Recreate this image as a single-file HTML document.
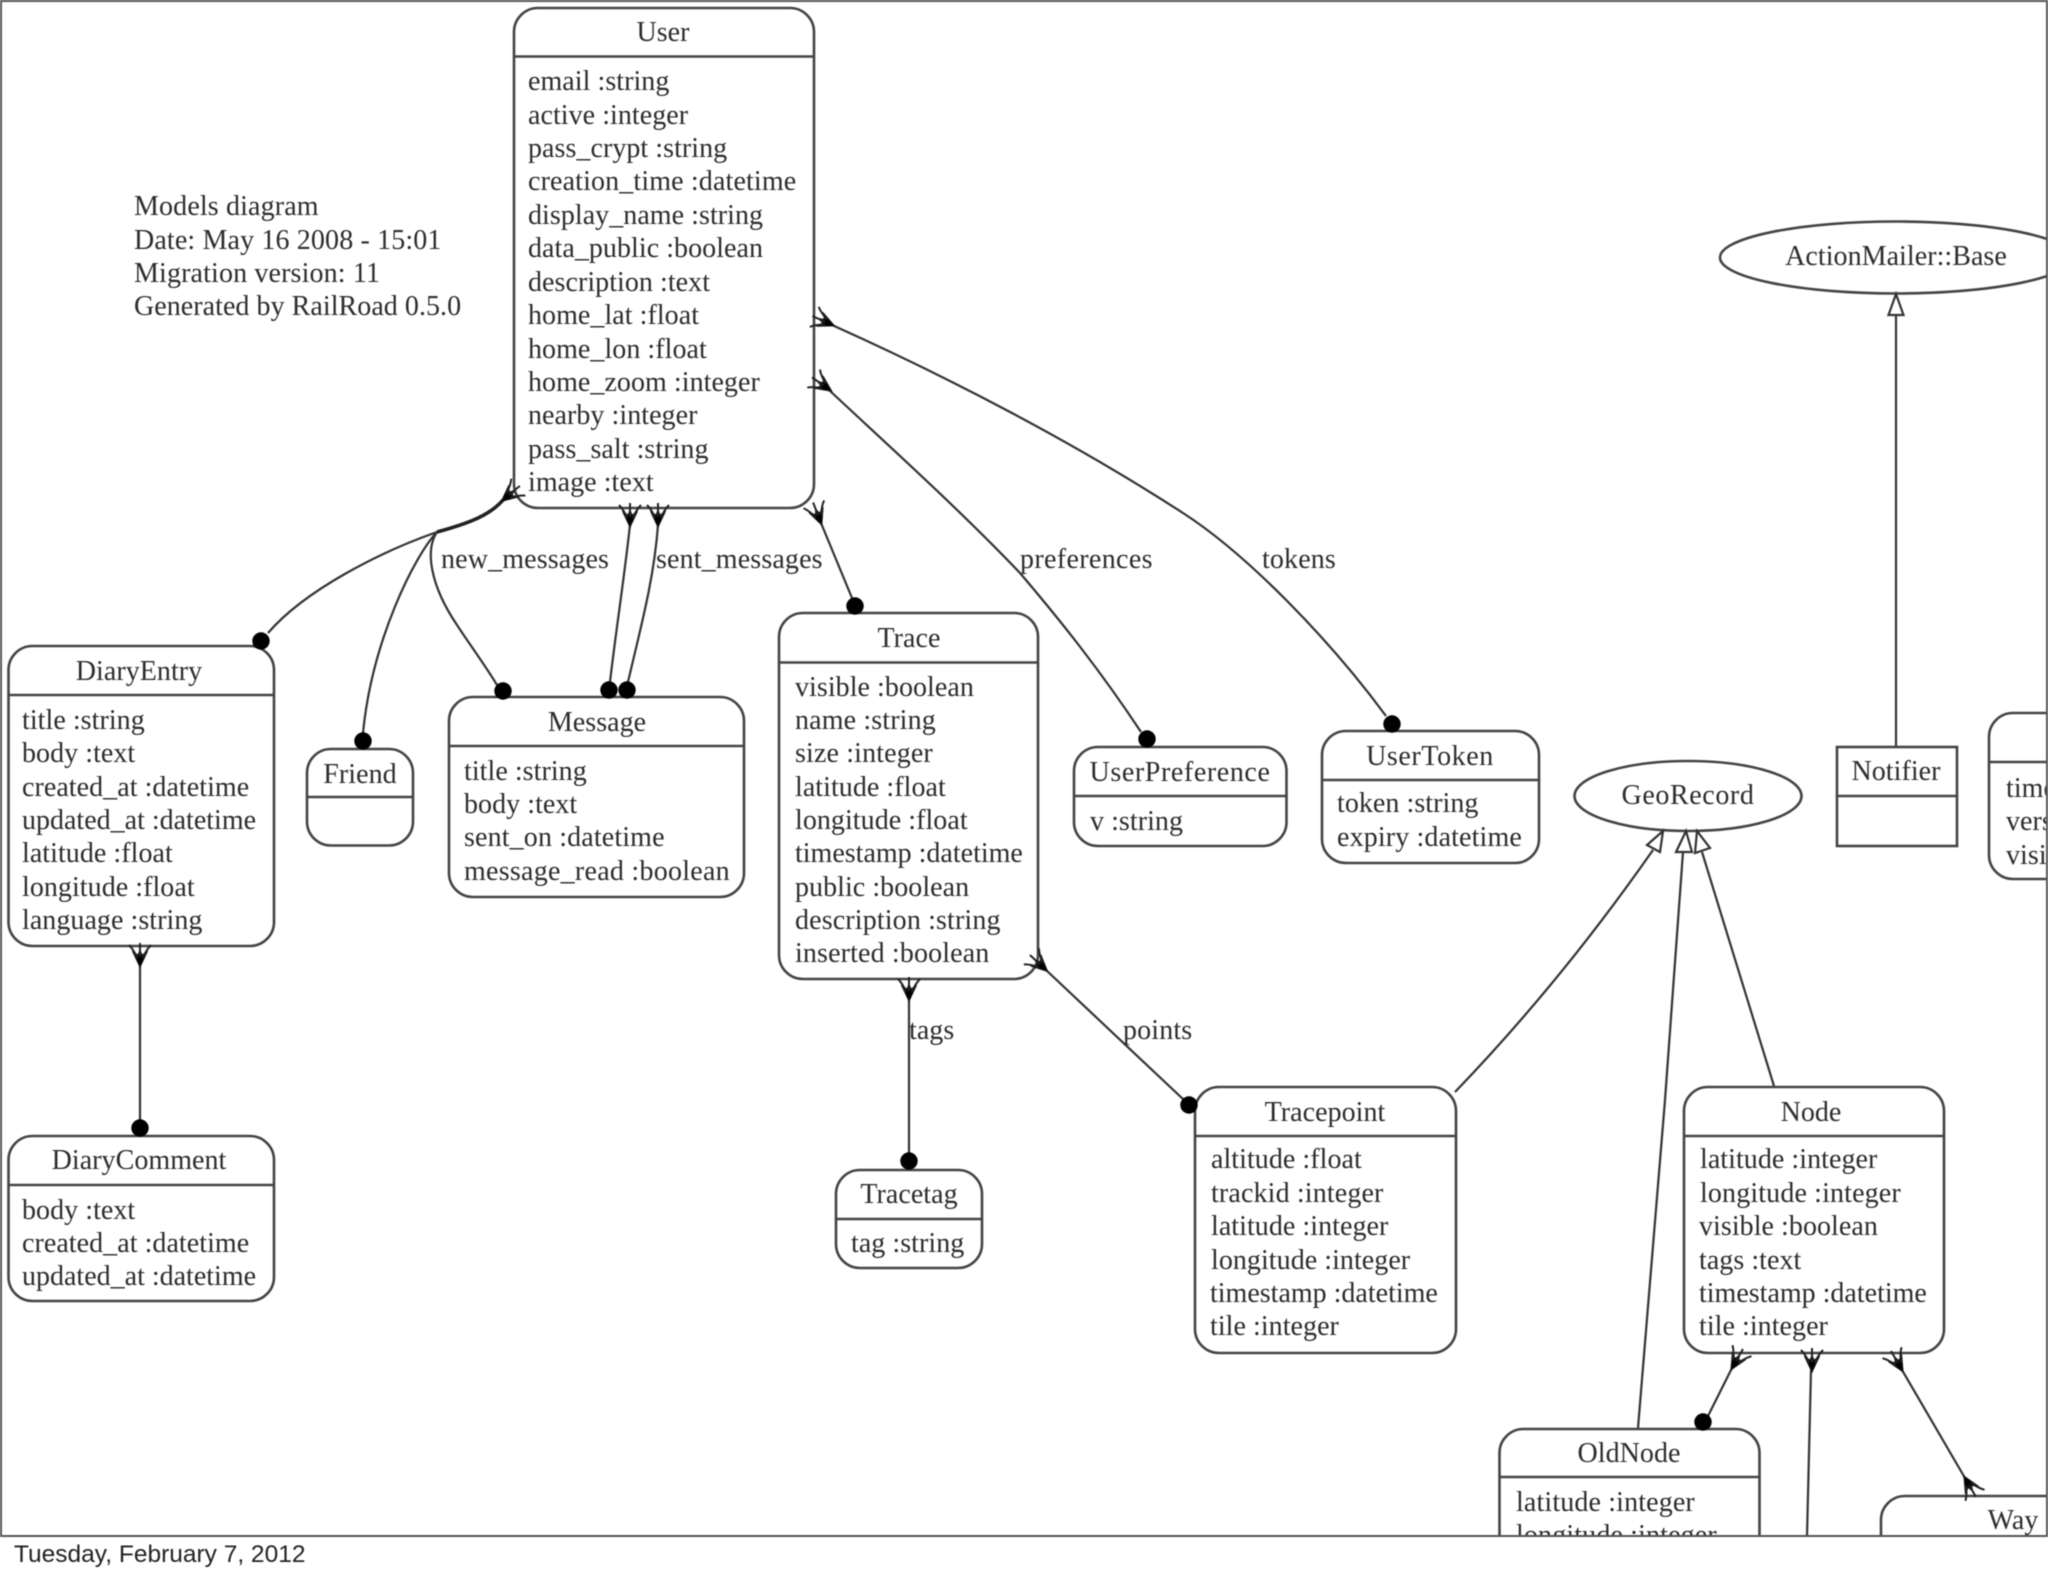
<!DOCTYPE html>
<html><head><meta charset="utf-8"><title>Models diagram</title>
<style>
html,body{margin:0;padding:0;background:#fff;width:2048px;height:1576px;overflow:hidden}
svg{display:block;filter:blur(.6px)}
text{font-family:"Liberation Serif",serif;font-size:28px;fill:#2c2c2c;letter-spacing:.05px}
.c{text-anchor:middle}
.w{letter-spacing:.6px}
.x{letter-spacing:.14px}
.n{fill:#fff;stroke:#444;stroke-width:2.6}
.l{stroke:#444;stroke-width:2.6;fill:none}
.e{stroke:#333;stroke-width:2.2;fill:none}
.h{fill:#fff;stroke:#333;stroke-width:2.2}
.d{fill:#000}
</style></head><body>
<svg width="2048" height="1576" viewBox="0 0 2048 1576" xmlns="http://www.w3.org/2000/svg">
<defs>
<clipPath id="cp"><rect x="0" y="0" width="2047" height="1535"/></clipPath>
<g id="crow"><path d="M0 2 L-7.5 -14 L-2 -9.5 L0 -15 L2 -9.5 L7.5 -14 Z" fill="#000" stroke="#111" stroke-width="1.2"/><path d="M-3 -7 Q-6 -15 -11 -20 M3 -7 Q6 -15 11 -20 M0 -8 V-22" fill="none" stroke="#222" stroke-width="2"/></g>
</defs>
<rect width="2048" height="1576" fill="#fff"/>
<g clip-path="url(#cp)">
<!-- edges -->
<path class="e" d="M503 500 C490 515 470 523 437 532" style="stroke-width:3.6;stroke:#222"/>
<path class="e" d="M437 532 C380 552 305 590 268 633"/>
<path class="e" d="M437 532 C415 555 372 640 363 733"/>
<path class="e" d="M437 532 C425 550 430 585 457 625 C470 645 485 665 497 685"/>
<path class="e" d="M630 525 C624 580 616 630 610 682"/>
<path class="e" d="M658 525 C654 580 640 630 628 682"/>
<path class="e" d="M821 523 L852 598"/>
<path class="e" d="M829 390 C890 447 960 510 1020 573 C1060 620 1100 670 1141 732"/>
<path class="e" d="M832 325 C950 378 1075 443 1183 513 C1248 555 1330 640 1386 716"/>
<path class="e" d="M140 964 L140 1122"/>
<path class="e" d="M909 998 L909 1155"/>
<path class="e" d="M1046 970 L1184 1100"/>
<path class="e" d="M1455 1092 Q1560 983 1653 850"/>
<path class="e" d="M1638 1428 L1665 1100 L1683 852"/>
<path class="e" d="M1774 1086 L1702 852"/>
<path class="e" d="M1896 746 L1896 314"/>
<path class="e" d="M1732 1368 L1708 1416"/>
<path class="e" d="M1811 1370 L1807 1536"/>
<path class="e" d="M1902 1370 L1965 1478"/>
<!-- User -->
<rect class="n" x="514" y="8" width="300" height="500" rx="24"/><path class="l" d="M514 56.5H814"/>
<text class="c" x="663" y="41">User</text>
<text x="528" y="90">email :string</text><text x="528" y="124">active :integer</text><text x="528" y="157">pass_crypt :string</text><text class="x" x="528" y="190">creation_time :datetime</text><text x="528" y="224">display_name :string</text><text x="528" y="257">data_public :boolean</text><text x="528" y="291">description :text</text><text x="528" y="324">home_lat :float</text><text x="528" y="358">home_lon :float</text><text x="528" y="391">home_zoom :integer</text><text x="528" y="424">nearby :integer</text><text x="528" y="458">pass_salt :string</text><text x="528" y="491">image :text</text>
<!-- Models -->
<text class="x" x="134" y="215">Models diagram</text><text class="x" x="134" y="249">Date: May 16 2008 - 15:01</text><text class="x" x="134" y="282">Migration version: 11</text><text x="134" y="315">Generated by RailRoad 0.5.0</text>
<!-- DiaryEntry -->
<rect class="n" x="8.5" y="646" width="265.5" height="300" rx="24"/><path class="l" d="M8.5 695H274"/>
<text class="c" x="139" y="680">DiaryEntry</text>
<text x="22" y="729">title :string</text><text x="22" y="762">body :text</text><text x="22" y="796">created_at :datetime</text><text style="letter-spacing:0" x="22" y="829">updated_at :datetime</text><text x="22" y="862">latitude :float</text><text x="22" y="896">longitude :float</text><text x="22" y="929">language :string</text>
<!-- Friend -->
<rect class="n" x="307" y="749" width="106" height="96.5" rx="24"/><path class="l" d="M307 797H413"/>
<text class="c" x="360" y="783">Friend</text>
<!-- Message -->
<rect class="n" x="449" y="697" width="295" height="200" rx="24"/><path class="l" d="M449 746H744"/>
<text class="c" x="597" y="731">Message</text>
<text x="464" y="780">title :string</text><text x="464" y="813">body :text</text><text class="x" x="464" y="846">sent_on :datetime</text><text x="464" y="880" style="letter-spacing:.26px">message_read :boolean</text>
<!-- Trace -->
<rect class="n" x="779" y="613" width="259" height="366" rx="24"/><path class="l" d="M779 662.5H1038"/>
<text class="c" x="909" y="647">Trace</text>
<text x="795" y="696">visible :boolean</text><text class="x" x="795" y="729">name :string</text><text class="x" x="795" y="762">size :integer</text><text x="795" y="796">latitude :float</text><text x="795" y="829">longitude :float</text><text style="letter-spacing:0" x="795" y="862">timestamp :datetime</text><text x="795" y="896">public :boolean</text><text class="x" x="795" y="929">description :string</text><text class="x" x="795" y="962">inserted :boolean</text>
<!-- DiaryComment -->
<rect class="n" x="8.5" y="1136" width="265.5" height="165" rx="24"/><path class="l" d="M8.5 1185H274"/>
<text class="c" x="139" y="1169">DiaryComment</text>
<text x="22" y="1219">body :text</text><text x="22" y="1252">created_at :datetime</text><text style="letter-spacing:0" x="22" y="1285">updated_at :datetime</text>
<!-- Tracetag -->
<rect class="n" x="836" y="1170" width="146" height="98" rx="24"/><path class="l" d="M836 1219H982"/>
<text class="c" x="909" y="1203">Tracetag</text><text x="851" y="1252">tag :string</text>
<!-- UserPreference -->
<rect class="n" x="1074" y="747" width="212.5" height="99" rx="24"/><path class="l" d="M1074 796H1286.5"/>
<text class="c w" x="1180" y="781">UserPreference</text><text x="1090" y="830">v :string</text>
<!-- UserToken -->
<rect class="n" x="1322" y="731" width="217" height="132" rx="24"/><path class="l" d="M1322 780H1539"/>
<text class="c w" x="1430" y="765">UserToken</text><text x="1337" y="812">token :string</text><text class="x" x="1337" y="846">expiry :datetime</text>
<!-- GeoRecord -->
<ellipse class="n" cx="1688" cy="796" rx="113.5" ry="35"/><text class="c w" x="1688" y="804">GeoRecord</text>
<!-- Notifier -->
<rect class="n" x="1837" y="747" width="120" height="99"/><path class="l" d="M1837 796H1957"/>
<text class="c" x="1896" y="780">Notifier</text>
<!-- ActionMailer -->
<ellipse class="n" cx="1896" cy="257.5" rx="176" ry="36"/><text class="c" x="1896" y="265">ActionMailer::Base</text>
<!-- right partial -->
<path class="n" d="M2060 713H2013A24 24 0 0 0 1989 737V855A24 24 0 0 0 2013 879H2060Z"/><path class="l" d="M1989 762H2060"/>
<text x="2006" y="797">timestamp :datetime</text><text x="2006" y="830">version :integer</text><text x="2006" y="864">visible :boolean</text>
<!-- Tracepoint -->
<rect class="n" x="1195" y="1087" width="261" height="266" rx="24"/><path class="l" d="M1195 1136H1456"/>
<text class="c" x="1325" y="1121">Tracepoint</text>
<text x="1211" y="1168">altitude :float</text><text class="x" x="1211" y="1202">trackid :integer</text><text x="1211" y="1235">latitude :integer</text><text x="1211" y="1269">longitude :integer</text><text style="letter-spacing:0" x="1210" y="1302">timestamp :datetime</text><text x="1210" y="1335">tile :integer</text>
<!-- Node -->
<rect class="n" x="1684" y="1087" width="260" height="266" rx="24"/><path class="l" d="M1684 1136H1944"/>
<text class="c" x="1811" y="1121">Node</text>
<text x="1700" y="1168">latitude :integer</text><text class="x" x="1700" y="1202">longitude :integer</text><text x="1699" y="1235">visible :boolean</text><text x="1699" y="1269">tags :text</text><text style="letter-spacing:0" x="1699" y="1302">timestamp :datetime</text><text x="1699" y="1335">tile :integer</text>
<!-- OldNode -->
<path class="n" d="M1499.5 1560V1453A24 24 0 0 1 1523.5 1429H1735.5A24 24 0 0 1 1759.5 1453V1560"/><path class="l" d="M1499.5 1477H1759.5"/>
<text class="c" x="1629" y="1462">OldNode</text>
<text class="x" x="1516" y="1511">latitude :integer</text><text class="x" x="1516" y="1544">longitude :integer</text>
<!-- Way -->
<path class="n" d="M1881 1560V1520A24 24 0 0 1 1905 1496H2060"/>
<text class="c" x="2013" y="1529">Way</text>
<!-- edge labels -->
<text class="x" x="441" y="568">new_messages</text><text class="x" x="656" y="568">sent_messages</text><text x="1020" y="568" style="letter-spacing:.35px">preferences</text><text class="x" x="1262" y="568">tokens</text><text x="909" y="1039">tags</text><text class="x" x="1123" y="1039">points</text>
<!-- dots -->
<circle class="d" cx="261" cy="641" r="8.7"/><circle class="d" cx="363" cy="741" r="8.7"/><circle class="d" cx="503" cy="691" r="8.7"/><circle class="d" cx="609" cy="690" r="8.7"/><circle class="d" cx="627" cy="690" r="8.7"/><circle class="d" cx="855" cy="606" r="8.7"/><circle class="d" cx="1147" cy="739" r="8.7"/><circle class="d" cx="1392" cy="724" r="8.7"/><circle class="d" cx="140" cy="1128" r="8.7"/><circle class="d" cx="909" cy="1161" r="8.7"/><circle class="d" cx="1189" cy="1105" r="8.7"/><circle class="d" cx="1703" cy="1422" r="8.7"/>
<!-- crows -->
<use href="#crow" transform="translate(503 500) rotate(50)"/>
<use href="#crow" transform="translate(630 525)"/>
<use href="#crow" transform="translate(658 525)"/>
<use href="#crow" transform="translate(821 523) rotate(-21)"/>
<use href="#crow" transform="translate(832.5 325) rotate(-66)"/>
<use href="#crow" transform="translate(830 390) rotate(-55)"/>
<use href="#crow" transform="translate(140 965)"/>
<use href="#crow" transform="translate(909 999)"/>
<use href="#crow" transform="translate(1046 970) rotate(-47)"/>
<use href="#crow" transform="translate(1732 1368) rotate(30)"/>
<use href="#crow" transform="translate(1812 1370)"/>
<use href="#crow" transform="translate(1902 1370) rotate(-30)"/>
<use href="#crow" transform="translate(1965 1478) rotate(150)"/>
<!-- hollow arrows -->
<polygon class="h" points="1663,831 1647,845 1660,852"/>
<polygon class="h" points="1686,831 1676,852 1692,852"/>
<polygon class="h" points="1697,831 1695,853 1710,848"/>
<polygon class="h" points="1896,294 1888.5,315 1903.5,315"/>
</g>
<!-- frame -->
<path d="M1 1536V1H2047V1536Z" fill="none" stroke="#555" stroke-width="2"/>
<text x="14" y="1562" style="font-family:'Liberation Sans',sans-serif;font-size:24.5px;fill:#222;letter-spacing:0">Tuesday, February 7, 2012</text>
</svg>
</body></html>
